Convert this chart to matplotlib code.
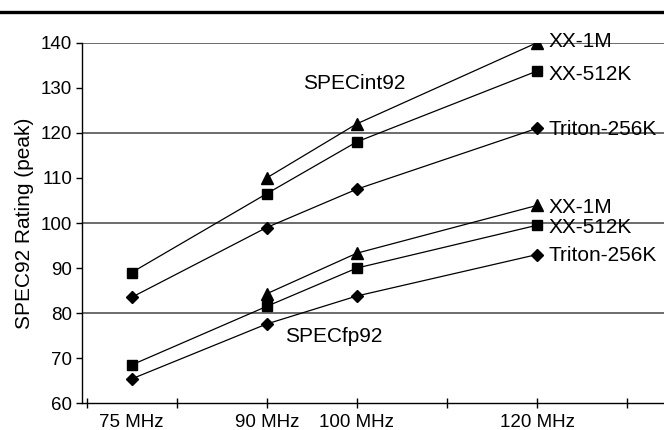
import matplotlib
matplotlib.use("Agg")
import matplotlib.pyplot as plt
from matplotlib.lines import Line2D

plt.rcParams['font.family'] = ['Liberation Sans', 'DejaVu Sans']

# clock speeds (MHz)
mhz = [75, 90, 100, 120]
mhz_labels = ["75 MHz", "90 MHz", "100 MHz", "120 MHz"]

# SPECint92 (None = no value at that speed)
int_xx_1m = [None, 110, 122, 140]
int_xx_512k = [89, 106.5, 118, 133.7]
int_triton = [83.5, 99, 107.5, 121]

# SPECfp92
fp_xx_1m = [None, 84.3, 93.3, 103.9]
fp_xx_512k = [68.5, 81.5, 90, 99.5]
fp_triton = [65.4, 77.6, 83.8, 93]

series = [
    ("XX-1M", int_xx_1m, "^", 8.5, 4),
    ("XX-512K", int_xx_512k, "s", 7, 9),
    ("Triton-256K", int_triton, "D", 6.5, 6.7),
    ("XX-1M", fp_xx_1m, "^", 8.5, 7.6),
    ("XX-512K", fp_xx_512k, "s", 7, 8),
    ("Triton-256K", fp_triton, "D", 6.5, 6.7),
]

fig = plt.figure(figsize=(6.64, 4.30), dpi=100)
ax = fig.add_axes([82 / 664, 26.7 / 430, 1 - 82 / 664, (403.3 - 42.7) / 430])

for name, vals, mk, ms, dy in series:
    xs = [x for x, v in zip(mhz, vals) if v is not None]
    ys = [v for v in vals if v is not None]
    ax.plot(xs, ys, color="black", lw=0.9, marker=mk, ms=ms, mfc="black", mec="black")
    # label to the right of the last point
    ax.annotate(name, (xs[-1], ys[-1]), xytext=(8, -dy * 0.72), textcoords="offset points",
                ha="left", va="baseline", fontsize=15, annotation_clip=False)

ax.text(99.7, 129.67, "SPECint92", ha="center", va="baseline", fontsize=15)
ax.text(92.06, 73.55, "SPECfp92", ha="left", va="baseline", fontsize=15)

ax.set_xlim(69.5, 134.1)
ax.set_ylim(60, 140)

# grid lines every 20
for g in [80, 100, 120, 140]:
    ax.axhline(g, color="#444444", lw=1.1, zorder=0)

ax.xaxis.remove_overlapping_locs = False
ax.set_xticks(range(70, 131, 10))
ax.set_xticklabels([])
ax.set_xticks(mhz, minor=True)
ax.set_xticklabels(mhz_labels, minor=True, fontsize=13.5)
ax.tick_params(axis="x", which="major", direction="inout", length=7, width=1)
ax.tick_params(axis="x", which="minor", length=0, pad=8)

ax.set_yticks(range(60, 141, 10))
ax.tick_params(axis="y", direction="out", length=4, width=1, labelsize=13.5, pad=3)

for s in ["top", "right"]:
    ax.spines[s].set_visible(False)
ax.spines["left"].set_linewidth(1)
ax.spines["bottom"].set_linewidth(1)

ax.set_ylabel("SPEC92 Rating (peak)", fontsize=15, labelpad=5)

# thick rule at the top of the figure
fig.add_artist(Line2D([0, 1], [1 - 12 / 430, 1 - 12 / 430], transform=fig.transFigure,
                      color="black", lw=2.4))

fig.savefig("out.png", dpi=100)
